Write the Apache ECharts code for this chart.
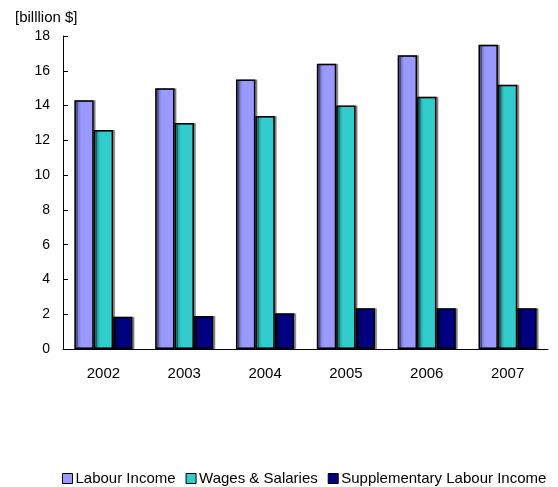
<!DOCTYPE html>
<html>
<head>
<meta charset="utf-8">
<script src="https://cdn.jsdelivr.net/npm/echarts@6/dist/echarts.min.js"></script>
<style>
  html, body { margin: 0; padding: 0; background: #fff; }
  #chart { width: 558px; height: 487px; }
</style>
</head>
<body>
<div id="chart"></div>
<script>
// Labour income in Canada by component, billions of dollars
const years = ['2002', '2003', '2004', '2005', '2006', '2007'];
const labourIncome = [14.3, 15.0, 15.5, 16.4, 16.9, 17.5];
const wagesSalaries = [12.6, 13.0, 13.4, 14.0, 14.5, 15.2];
const supplementary = [1.85, 1.9, 2.05, 2.35, 2.35, 2.35];
const seriesNames = ['Labour Income', 'Wages & Salaries', 'Supplementary Labour Income'];
const unitLabel = '[billlion $]';

const FONT = 'Liberation Sans, Arial, sans-serif';
const BASE_COLORS = ['#9999FF', '#33CCCC', '#000080'];

// Horizontal shading: darker at the left edge of each bar
function shade(dark, base) {
  return new echarts.graphic.LinearGradient(0, 0, 1, 0, [
    { offset: 0, color: dark },
    { offset: 0.35, color: base },
    { offset: 1, color: base }
  ]);
}

function barSeries(name, data, dark, base) {
  return {
    name: name,
    type: 'bar',
    data: data,
    barGap: '0%',
    barCategoryGap: '28%',
    itemStyle: {
      color: shade(dark, base),
      borderColor: '#000',
      borderWidth: 1.5,
      shadowColor: 'rgba(0,0,0,0.35)',
      shadowOffsetX: 2,
      shadowOffsetY: 0,
      shadowBlur: 0
    },
    emphasis: { disabled: true }
  };
}

const chart = echarts.init(document.getElementById('chart'), null, { renderer: 'canvas' });
chart.setOption({
  animation: false,
  backgroundColor: '#fff',
  textStyle: { fontFamily: FONT },
  grid: { left: 63, right: 10, top: 36, bottom: 138, containLabel: false },
  legend: {
    data: seriesNames.map((n, i) => ({
      name: n,
      itemStyle: { color: BASE_COLORS[i], borderColor: '#000', borderWidth: 1 }
    })),
    left: 62,
    top: 471,
    padding: 0,
    width: 500,
    itemWidth: 10,
    itemHeight: 10,
    itemGap: 10,
    icon: 'rect',
    textStyle: { fontFamily: FONT, fontSize: 15, color: '#000', padding: [0, 0, 0, -2] }
  },
  graphic: [{
    type: 'text',
    left: 15,
    top: 10,
    style: { text: unitLabel, font: '15px ' + FONT, fill: '#000' }
  }],
  xAxis: {
    type: 'category',
    data: years,
    boundaryGap: true,
    axisLine: { lineStyle: { color: '#000', width: 1 } },
    axisTick: { inside: true, length: 5, alignWithLabel: false, lineStyle: { color: '#000' } },
    axisLabel: { color: '#000', fontSize: 15, fontFamily: FONT, margin: 17 },
    splitLine: { show: false }
  },
  yAxis: {
    type: 'value',
    min: 0,
    max: 18,
    interval: 2,
    axisLine: { show: true, lineStyle: { color: '#000', width: 1 } },
    axisTick: { show: true, inside: true, length: 5, lineStyle: { color: '#000' } },
    axisLabel: { color: '#000', fontSize: 14, fontFamily: FONT, margin: 13 },
    splitLine: { show: false }
  },
  series: [
    barSeries(seriesNames[0], labourIncome, '#5c5c99', BASE_COLORS[0]),
    barSeries(seriesNames[1], wagesSalaries, '#1f7a7a', BASE_COLORS[1]),
    barSeries(seriesNames[2], supplementary, '#00004d', BASE_COLORS[2])
  ]
});
</script>
</body>
</html>
